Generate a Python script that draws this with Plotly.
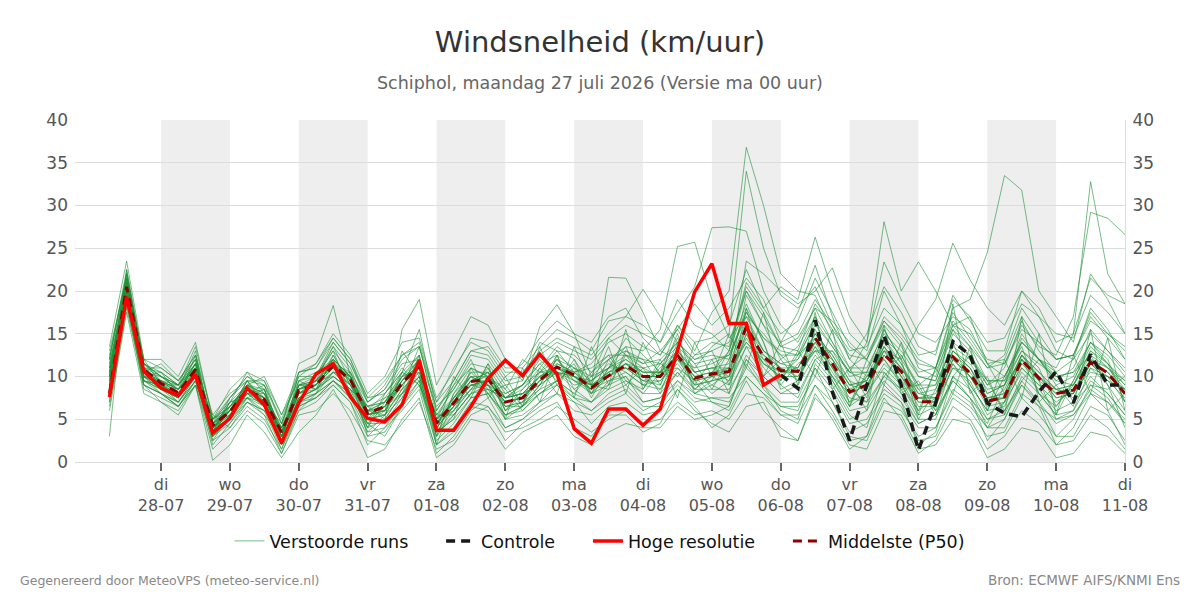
import pandas as pd
import plotly.graph_objects as go

# ---------------- DATA ----------------
start_time = "2026-07-27 06:00"
n_steps = 60            # 6-hourly values
hres_steps = 40         # HRES runs until 06-08 00:00
control_start_index = 39

hres = [7.6, 19.3, 10.6, 8.65, 7.8, 10.2, 3.4, 5.1, 8.65, 6.7, 2.2, 6.9, 10.3, 11.5, 7.6, 5.1,
        4.7, 6.7, 11.9, 3.7, 3.7, 6.5, 9.8, 11.9, 10.1, 12.6, 10.3, 3.9, 2.2, 6.2, 6.2, 4.3,
        6.2, 13.1, 19.9, 23.2, 16.2, 16.2, 9.0, 10.2]

median = [8.0, 20.5, 10.8, 9.2, 8.1, 10.8, 4.3, 5.9, 8.5, 7.3, 3.5, 8.4, 9.0, 11.3, 9.6, 5.7,
          6.5, 9.2, 11.3, 4.5, 6.9, 9.4, 9.7, 7.0, 7.5, 9.6, 11.1, 10.2, 8.7, 10.1, 11.3, 10.0,
          10.0, 12.5, 9.8, 10.3, 10.6, 15.8, 12.3, 10.7, 10.6, 14.5, 11.5, 8.2, 9.0, 12.6, 10.6, 7.05,
          7.05, 12.3, 10.4, 7.1, 7.6, 11.9, 9.8, 8.0, 8.4, 11.7, 10.4, 8.0]

control = [10.2, 8.6, 16.6, 8.2, 2.5, 9.0, 14.8, 9.0, 1.4, 6.9, 14.1, 12.5, 6.9, 5.7, 5.3, 8.2,
           10.6, 6.9, 12.6, 9.0, 9.0]

members = [
    [9.5,22.0,11.5,10.0, 8.5,13.0,3.0,6.5, 9.0,8.0,2.5,9.5, 10.5,12.0,10.0,4.0, 7.0,10.5,12.5,3.0, 8.0,11.0,10.0,6.0, 8.5,11.0,13.5,12.0, 9.0,8.5,13.0,11.5, 12.0,14.0,8.0,9.5, 13.0,18.5,14.0,9.0, 7.5,12.0,13.0,9.5, 6.0,15.5,12.0,5.0, 8.5,14.0,9.0,6.0, 10.0,13.5,8.0,5.5, 9.5,14.0,12.0,7.0],
    [11.0,19.0,9.5,8.0, 7.0,9.5,5.0,7.0, 7.5,6.0,4.0,7.0, 8.0,10.5,8.5,6.5, 5.0,8.0,10.0,5.5, 5.5,8.0,11.5,8.5, 6.0,8.0,9.5,8.0, 10.5,12.5,9.5,8.5, 11.5,10.0,12.5,13.0, 9.0,13.5,10.0,12.0, 13.5,17.0,9.5,6.5, 10.5,10.5,8.5,9.0, 5.5,10.0,12.5,9.5, 6.0,9.5,12.0,10.5, 7.0,9.0,8.5,10.0],
    [12.5,21.5,10.0,9.5, 9.0,11.5,4.0,5.0, 8.0,9.0,3.0,8.0, 9.5,13.5,11.0,6.0, 8.0,11.0,9.0,5.0, 7.0,10.5,8.5,7.5, 9.0,12.0,10.0,11.5, 7.5,11.0,14.5,12.5, 10.5,16.0,13.0,17.5, 20.0,36.8,30.0,22.0, 20.0,19.5,15.0,11.0, 12.5,16.5,14.0,10.0, 9.5,15.0,13.0,8.0, 9.0,14.0,12.0,9.5, 11.0,15.5,13.0,10.5],
    [10.0,20.0,11.0,9.0, 8.0,10.0,4.5,6.0, 9.5,7.0,4.5,9.0, 9.0,12.5,9.0,5.5, 6.0,9.5,12.0,4.0, 6.5,9.0,9.0,6.5, 7.0,9.5,12.0,9.5, 8.0,10.0,11.5,9.5, 9.0,13.0,11.0,13.5, 15.0,34.0,25.0,19.5, 18.0,20.5,16.0,12.0, 10.0,14.0,11.5,7.5, 8.0,13.0,11.0,7.0, 8.5,12.5,10.5,8.5, 9.0,13.0,11.0,9.0],
    [8.5,21.0,12.0,11.0, 9.5,12.5,3.5,7.5, 10.0,8.5,2.0,10.5, 11.0,14.5,12.0,7.0, 9.0,12.5,13.5,6.0, 9.5,13.0,12.5,9.5, 10.0,12.5,14.0,13.0, 12.0,14.5,16.0,15.0, 14.0,17.5,20.5,27.4, 27.5,27.0,20.0,16.0, 14.0,18.0,16.5,14.0, 12.0,17.0,15.0,12.0, 11.0,17.5,14.5,11.5, 12.0,17.0,14.0,12.0, 12.5,16.5,15.0,13.0],
    [9.0,18.5,8.5,7.5, 6.5,9.0,5.5,4.0, 7.0,5.5,3.0,6.5, 7.5,9.5,7.5,4.5, 3.0,6.5,9.5,2.5, 4.5,7.5,8.0,5.0, 5.5,7.0,9.0,7.5, 6.0,8.0,9.0,7.0, 7.5,10.5,8.0,9.0, 8.0,12.5,10.0,8.0, 9.0,12.5,10.0,6.5, 8.0,11.5,9.5,6.0, 11.0,18.0,19.0,24.5, 33.5,31.8,20.0,17.0, 14.0,22.0,19.0,15.0],
    [10.5,20.5,10.5,9.0, 7.5,11.0,4.0,6.0, 8.5,7.5,3.5,8.5, 9.5,11.5,10.5,5.0, 7.5,10.0,11.0,4.5, 7.0,9.5,10.5,7.5, 8.0,10.0,10.5,10.0, 9.5,11.0,12.0,10.5, 10.5,12.0,10.5,11.0, 11.5,16.5,13.0,11.5, 11.0,15.0,12.5,9.0, 9.5,13.5,11.0,8.0, 7.5,13.0,11.5,8.5, 9.0,14.5,12.0,11.0, 15.0,32.8,22.0,18.5],
    [7.5,19.5,10.0,8.5, 7.5,10.5,2.5,5.5, 8.0,6.5,4.0,8.0, 8.5,10.5,9.0,6.0, 5.5,8.5,10.5,5.0, 6.0,8.5,9.0,6.5, 7.0,8.5,11.5,10.5, 8.5,9.5,10.5,9.0, 9.5,11.5,9.0,9.5, 10.0,14.5,11.5,10.0, 12.0,16.5,13.5,10.5, 14.0,28.1,20.0,23.4, 20.0,16.0,17.0,11.5, 8.0,12.5,10.0,7.5, 8.0,11.5,9.5,7.5],
    [11.5,21.0,11.0,10.5, 9.0,12.0,3.5,7.0, 9.0,8.5,3.0,9.0, 10.0,13.0,10.5,7.0, 8.5,11.5,12.0,6.5, 8.5,11.5,11.0,8.0, 9.0,11.5,12.5,11.0, 10.0,12.0,13.0,12.0, 11.5,14.0,12.0,12.5, 12.0,17.5,14.5,13.0, 12.5,17.0,14.0,11.0, 11.0,15.0,13.0,10.0, 9.5,15.5,13.5,11.0, 11.5,16.0,13.5,12.5, 17.0,29.2,28.5,26.6],
    [6.0,17.5,8.0,7.0, 5.5,9.0,1.5,3.5, 6.0,4.5,1.0,5.5, 6.0,8.0,6.0,2.5, 2.0,4.5,7.0,1.5, 2.5,5.5,6.5,3.5, 4.0,5.0,6.5,5.0, 3.5,5.0,6.0,4.5, 5.0,7.0,5.5,6.0, 5.0,8.0,7.5,5.5, 4.5,9.0,7.0,3.5, 4.5,8.0,6.5,2.5, 3.0,7.5,6.0,3.0, 3.5,7.5,5.5,3.0, 3.0,6.5,5.5,2.5],
    [3.0,22.5,11.5,9.5, 8.5,11.5,4.5,6.5, 8.5,6.5,2.5,7.5, 8.5,12.0,8.0,4.5, 6.0,13.0,10.0,3.5, 5.0,11.0,8.0,9.0, 6.5,13.5,9.0,12.0, 8.0,12.0,9.0,11.0, 8.0,13.5,8.5,10.0, 9.0,15.0,11.0,9.0, 11.5,13.0,10.0,7.0, 8.0,11.0,9.0,5.5, 6.5,11.0,9.5,5.5, 7.0,10.5,8.5,6.0, 7.0,10.0,8.0,5.5],
    [13.5,23.5,12.0,12.0, 10.0,14.0,5.0,8.5, 10.5,9.5,4.5,10.0, 11.5,15.0,12.5,8.0, 10.0,14.0,14.5,7.5, 10.5,14.5,14.0,11.0, 11.0,13.5,15.5,14.5, 13.0,16.5,17.0,16.0, 14.0,19.0,16.0,15.0, 13.0,20.0,16.0,14.0, 15.0,19.0,16.0,13.0, 13.5,18.0,16.0,12.5, 13.0,19.0,17.0,14.0, 14.5,18.5,17.0,15.0, 14.5,19.5,17.5,15.0],
    [7.0,20.0,9.0,8.0, 7.0,10.0,3.0,5.0, 7.5,7.0,2.0,7.5, 8.5,10.0,8.5,3.5, 5.5,7.5,12.5,2.0, 7.5,10.0,8.0,5.5, 6.5,9.0,10.5,8.5, 7.0,9.0,10.0,8.0, 10.5,14.5,10.5,11.0, 10.0,19.5,16.0,12.0, 9.5,14.0,10.5,7.5, 7.0,10.0,12.5,8.5, 6.0,9.5,7.5,4.5, 9.0,12.0,8.0,6.5, 9.0,12.5,9.0,6.0],
    [12.0,22.0,10.5,11.5, 9.5,12.5,5.5,8.0, 9.5,9.0,5.0,10.0, 10.0,14.0,11.5,7.5, 8.0,10.5,15.5,6.0, 9.0,12.5,12.0,9.0, 9.5,14.0,13.0,10.5, 11.5,14.0,15.0,13.5, 12.5,16.0,14.0,14.5, 16.0,22.5,18.0,15.0, 16.5,21.5,17.5,13.5, 12.0,16.0,13.5,10.5, 11.0,16.5,14.0,11.0, 12.5,18.0,15.0,12.0, 12.5,17.5,15.0,13.5],
    [10.0,21.0,12.0,9.0, 9.0,11.0,4.0,7.0, 10.5,8.0,4.0,11.5, 12.5,18.3,10.0,3.0, 5.0,15.5,19.0,9.0, 13.0,17.0,16.0,12.0, 9.5,15.8,18.4,15.0, 10.0,14.5,12.5,10.0, 8.5,12.0,10.0,8.0, 9.5,16.0,12.5,11.0, 10.0,13.0,12.0,9.0, 8.5,13.5,10.0,7.5, 7.5,12.5,10.0,7.5, 7.5,12.0,10.0,8.5, 8.0,11.5,10.0,8.5],
    [8.0,20.0,10.0,9.5, 8.0,10.5,4.5,5.5, 8.5,7.5,3.5,8.5, 9.0,11.0,9.0,5.5, 6.5,9.5,11.5,4.5, 6.5,9.0,9.5,7.0, 7.5,10.0,11.0,10.0, 9.0,21.6,21.5,17.5, 13.0,12.0,9.5,10.0, 11.0,14.0,11.5,10.5, 11.0,14.5,11.0,8.0, 9.0,12.5,10.5,7.0, 7.0,12.0,10.0,7.0, 7.5,12.0,10.0,7.5, 8.0,12.0,10.5,8.0],
    [9.0,19.0,9.5,8.5, 7.5,10.0,3.5,6.0, 8.0,7.0,3.0,8.0, 9.0,11.5,9.5,6.0, 6.5,9.0,11.0,4.5, 7.0,9.5,9.5,7.0, 7.5,9.5,11.0,10.0, 8.5,10.0,11.0,10.0, 10.0,12.5,10.0,10.5, 13.0,21.0,18.0,20.5, 19.0,26.3,20.0,15.0, 13.0,20.0,16.0,11.0, 10.0,16.0,13.5,9.5, 9.5,15.0,12.0,9.0, 10.0,14.0,11.5,9.0],
    [9.5,20.5,10.0,8.0, 6.5,9.5,3.0,4.5, 7.0,6.0,1.5,6.5, 7.5,9.0,7.0,2.0, 4.0,6.0,8.5,1.0, 3.0,6.0,7.5,4.0, 5.0,6.5,8.0,7.0, 4.5,6.5,7.0,5.5, 6.0,8.5,6.0,4.5, 3.5,6.5,7.0,3.0, 2.5,7.5,5.5,2.0, 1.5,6.0,5.5,1.5, 2.0,5.0,4.5,0.5, 1.5,4.0,3.5,0.5, 1.0,3.5,3.0,1.0],
    [13.0,21.5,11.5,10.0, 9.0,11.5,4.0,6.5, 9.0,10.0,5.5,9.5, 8.5,12.0,10.0,5.5, 6.0,9.0,11.5,5.0, 9.0,11.0,10.0,8.5, 12.0,10.5,13.0,12.5, 10.5,12.0,13.5,13.0, 15.5,25.2,25.7,19.0, 14.5,17.0,15.0,12.5, 10.5,13.0,13.0,10.5, 9.5,13.5,11.0,8.5, 9.0,13.5,12.0,9.5, 9.5,13.0,11.5,10.0, 10.5,12.5,11.0,9.5],
    [8.5,20.5,11.0,10.0, 8.5,11.0,5.0,6.0, 8.5,7.0,3.5,8.0, 9.5,11.0,9.0,6.5, 7.0,9.5,11.0,5.5, 7.5,9.0,8.5,7.5, 8.0,9.0,10.5,9.5, 8.5,10.5,11.5,11.0, 10.0,12.0,11.0,11.5, 12.5,17.0,13.0,11.5, 12.0,15.0,12.5,9.5, 8.5,13.0,12.0,16.0, 19.0,25.6,21.3,18.0, 16.0,20.0,17.0,13.0, 12.0,15.0,13.0,11.0],
    [6.5,18.0,9.0,7.0, 6.0,9.0,0.2,2.0, 5.5,3.5,0.5,3.5, 5.5,8.5,5.0,0.5, 1.5,5.0,7.5,0.5, 2.0,5.0,4.5,1.5, 3.5,4.5,5.5,3.0, 2.0,3.5,4.5,4.0, 4.0,6.5,5.0,5.5, 6.5,11.5,8.5,6.5, 6.0,11.0,7.0,3.0, 2.5,7.0,6.0,3.0, 4.0,8.0,6.5,4.0, 5.0,9.5,7.0,3.0, 5.0,9.0,7.5,4.5],
    [10.5,22.0,11.0,8.5, 8.0,11.5,4.5,6.0, 9.5,7.5,3.0,8.0, 9.0,10.5,10.5,5.5, 6.5,10.0,10.5,4.0, 6.5,8.5,11.0,6.0, 7.0,10.5,10.5,9.0, 9.5,11.5,10.5,9.0, 11.0,13.0,10.5,9.0, 10.5,14.0,12.0,9.5, 12.5,14.5,11.0,7.0, 10.0,12.0,9.0,6.0, 7.5,11.5,9.0,6.0, 6.5,11.0,9.0,7.0, 8.5,10.5,10.0,7.0],
    [9.0,21.0,10.5,9.5, 8.0,11.0,4.0,6.0, 8.5,7.0,3.5,8.5, 9.0,11.5,9.5,5.5, 6.0,9.0,11.0,4.0, 6.5,9.0,9.5,7.0, 7.5,9.5,11.0,10.0, 9.0,10.0,11.5,10.5, 10.5,12.5,10.0,10.5, 11.0,23.5,22.0,20.0, 18.5,20.0,22.7,17.0, 14.0,23.4,19.0,15.0, 14.0,17.0,15.5,11.5, 10.0,14.0,12.0,9.5, 9.0,13.0,11.5,9.5],
    [11.0,20.5,9.5,9.0, 7.5,10.0,4.0,5.5, 8.0,8.0,4.0,9.0, 9.5,12.0,10.0,6.5, 7.0,9.5,12.0,5.0, 7.0,10.0,10.0,7.5, 8.0,10.0,11.0,9.5, 9.0,10.5,11.0,9.5, 9.5,12.0,9.0,9.5, 10.0,15.0,11.5,10.0, 10.0,13.5,11.0,8.5, 9.5,13.0,10.0,6.5, 6.5,12.0,10.0,6.5, 7.0,11.5,9.5,8.0, 8.0,11.0,10.0,8.5],
    [12.0,22.5,11.5,10.5, 9.0,13.5,5.0,7.5, 9.5,9.5,5.5,10.5, 11.0,14.0,11.5,7.0, 8.5,12.0,13.5,7.0, 9.5,13.0,13.5,10.5, 10.5,13.0,14.5,13.5, 12.5,15.0,17.0,20.2, 17.0,14.0,12.0,13.0, 14.0,20.0,17.0,13.5, 13.0,18.5,15.5,12.5, 12.0,16.5,14.5,11.5, 11.0,16.0,15.0,12.0, 11.5,15.5,14.0,12.0, 12.5,17.0,14.5,12.0],
    [8.0,19.0,9.0,8.0, 6.5,9.0,2.5,4.0, 6.5,5.0,1.5,6.0, 7.0,9.0,7.0,3.0, 3.5,6.5,9.0,2.0, 4.0,7.0,6.5,4.0, 5.0,7.0,8.0,6.0, 5.5,7.0,8.0,6.0, 7.0,9.0,7.0,7.5, 7.5,10.0,8.0,6.5, 6.5,10.0,8.0,4.5, 5.0,8.5,7.0,4.0, 4.0,8.5,7.0,4.0, 4.0,8.0,6.5,5.0, 5.5,8.0,7.0,5.0],
    [10.0,20.0,10.5,10.0, 9.0,12.0,3.5,6.0, 7.5,8.5,2.5,7.0, 10.0,13.0,8.0,4.0, 8.0,10.5,9.5,3.0, 8.0,10.0,9.0,7.5, 9.0,11.5,9.5,11.0, 8.0,9.0,12.5,12.0, 9.0,14.0,11.5,8.5, 12.0,18.0,14.0,8.5, 9.5,15.5,12.0,8.5, 7.0,14.5,11.5,8.0, 8.5,13.0,11.0,8.0, 9.0,13.0,11.0,6.5, 9.5,13.5,11.5,7.0],
    [9.0,21.5,10.0,9.0, 8.5,10.5,5.0,6.5, 9.0,7.0,3.0,9.0, 8.5,10.5,10.0,6.0, 6.0,8.0,12.0,4.5, 6.0,8.5,10.5,6.5, 6.5,9.0,12.0,10.0, 8.0,11.0,11.0,9.5, 10.5,11.0,8.5,10.5, 9.5,13.5,12.5,11.0, 9.5,13.5,10.0,8.0, 10.0,12.0,9.5,7.5, 7.0,11.0,10.5,7.5, 8.0,11.0,9.0,8.5, 7.5,11.5,9.5,8.5],
    [7.5,18.5,9.5,8.5, 7.0,9.5,3.0,5.0, 7.0,6.0,2.5,7.0, 7.5,9.5,8.0,4.5, 4.5,7.5,10.0,3.5, 5.0,7.5,8.0,5.5, 6.0,8.0,9.5,8.0, 7.0,8.5,9.5,8.0, 8.0,10.5,8.5,8.5, 8.5,12.0,10.0,8.0, 8.0,12.0,9.5,6.0, 6.5,10.0,8.5,5.0, 5.0,10.0,8.5,5.0, 5.5,10.0,8.0,5.5, 6.0,9.5,8.0,5.5],
    [10.5,21.0,11.0,9.5, 8.5,11.0,4.5,6.0, 8.5,7.5,3.5,8.5, 9.5,11.5,10.0,6.0, 7.0,9.5,11.5,5.0, 7.0,9.5,10.0,7.5, 8.0,10.0,11.5,10.5, 9.0,10.5,12.0,10.5, 10.5,13.0,10.5,11.0, 11.0,16.0,13.0,11.0, 11.0,15.0,12.0,9.0, 9.5,13.0,11.0,7.5, 7.5,12.5,11.0,7.5, 8.0,12.5,10.5,8.5, 9.0,12.0,11.0,8.5],
    [10.0,21.5,10.0,10.5, 8.0,10.5,3.5,7.0, 8.0,8.5,3.5,9.5, 10.0,13.5,9.5,5.0, 5.5,10.5,9.0,3.5, 10.0,7.5,11.5,5.0, 11.0,7.0,12.5,7.5, 13.5,9.0,15.5,8.5, 12.0,7.5,14.0,10.0, 15.0,11.0,17.5,9.5, 13.0,10.0,15.5,6.5, 12.0,9.0,14.0,5.5, 11.0,8.0,13.5,6.0, 12.0,7.5,15.0,5.5, 12.5,8.0,14.5,6.0],
    [11.5,20.0,10.5,8.5, 7.5,12.5,4.0,5.5, 9.5,6.5,2.0,8.5, 9.5,10.0,8.5,6.5, 7.5,8.5,13.5,5.5, 8.5,12.0,7.5,10.0, 6.5,11.0,8.0,13.5, 9.0,13.5,8.0,14.0, 10.0,15.0,9.0,12.0, 8.0,18.0,10.0,14.0, 9.0,17.5,8.5,11.0, 7.5,16.0,8.0,9.5, 6.0,18.5,8.0,10.0, 5.5,17.0,7.0,9.0, 6.5,15.5,6.0,8.0],
    [8.5,19.5,9.5,9.0, 7.0,10.0,2.0,4.5, 7.5,5.5,1.0,6.0, 8.0,9.5,7.5,3.5, 4.0,7.0,9.5,2.0, 3.5,6.5,6.0,2.5, 4.5,6.0,7.0,4.0, 3.0,5.5,5.5,3.5, 4.5,8.5,6.5,4.0, 5.5,9.5,6.0,4.0, 2.5,8.0,5.0,1.5, 3.0,9.0,7.0,2.0, 3.5,10.0,7.5,2.5, 5.0,9.0,6.5,2.0, 4.0,8.0,6.0,2.0],
    [12.0,22.0,11.0,11.0, 9.5,12.0,4.5,7.5, 10.0,9.0,4.5,10.5, 11.5,14.5,12.0,7.5, 9.5,12.5,14.0,7.0, 11.0,14.0,13.0,10.0, 11.5,14.5,16.5,15.0, 14.0,17.0,18.0,14.5, 12.5,15.5,18.5,16.0, 18.0,21.5,19.0,14.0, 17.5,23.0,17.0,12.0, 15.0,20.5,17.5,13.5, 12.5,19.5,16.5,13.0, 13.0,20.0,18.0,14.0, 15.0,21.5,19.5,18.5],
    [9.5,20.0,10.0,9.0, 8.0,11.5,5.0,6.5, 8.0,7.5,4.0,7.5, 8.0,12.5,9.0,4.5, 6.5,8.0,11.0,3.5, 6.0,9.5,10.5,6.0, 8.0,9.0,12.5,8.5, 10.0,11.0,13.5,9.0, 8.5,11.0,9.5,7.0, 6.5,12.0,9.0,6.0, 5.0,11.5,9.0,5.5, 4.0,10.5,8.0,4.5, 5.5,11.5,8.5,4.0, 7.0,12.5,9.5,5.0, 6.0,11.0,9.0,4.0],
    [10.5,21.0,11.5,10.0, 9.0,11.0,4.0,6.0, 9.0,8.0,3.0,9.0, 9.0,11.0,10.0,5.0, 6.5,10.0,12.5,4.5, 7.5,10.0,9.0,8.0, 9.0,10.5,11.0,10.5, 11.0,12.5,12.5,11.5, 13.0,15.5,12.5,14.0, 13.5,20.5,17.5,13.5, 14.5,18.0,14.0,10.0, 10.5,15.5,12.0,9.0, 10.5,15.5,12.0,9.0, 11.0,16.5,13.0,10.5, 12.0,18.0,15.5,12.0],
    [7.0,19.0,9.0,8.0, 6.5,9.5,3.0,5.5, 7.5,6.5,2.0,7.0, 8.0,9.5,8.0,4.0, 5.0,8.0,10.0,3.0, 5.5,8.0,9.0,5.0, 6.5,8.5,9.5,7.5, 7.0,9.5,10.0,7.0, 7.5,9.5,8.0,7.5, 7.0,11.0,9.0,7.0, 7.0,11.0,8.5,5.0, 6.0,9.5,7.5,4.5, 5.5,9.5,7.5,5.0, 6.0,9.0,7.0,4.5, 5.5,8.5,7.0,4.5],
    [11.0,21.5,10.5,9.5, 8.5,11.5,4.5,6.5, 9.0,7.5,3.5,9.0, 9.5,12.0,10.0,6.0, 7.0,10.0,12.0,5.0, 7.5,10.5,10.5,7.5, 8.5,10.5,12.0,11.0, 9.5,11.0,12.5,11.0, 11.5,13.5,11.5,12.0, 12.5,17.5,14.5,12.5, 12.5,16.0,13.5,10.5, 10.5,14.5,12.5,9.0, 9.0,14.0,12.5,9.0, 10.0,14.0,12.0,10.0, 10.5,14.0,12.5,10.0],
    [9.0,20.0,10.0,8.5, 7.5,10.0,3.5,5.0, 8.0,6.5,2.5,7.5, 8.5,10.0,8.5,5.0, 5.5,8.5,10.5,3.5, 5.5,8.0,8.5,5.5, 6.5,8.0,9.0,7.0, 6.0,7.5,8.5,6.5, 6.5,9.5,7.5,7.0, 6.0,10.0,8.0,5.5, 5.5,9.0,6.0,2.5, 3.0,7.5,5.0,1.0, 2.5,6.5,5.0,1.5, 3.0,6.0,4.5,2.0, 2.5,5.5,4.0,1.5],
    [10.0,20.5,11.0,9.0, 8.0,10.5,4.0,6.0, 8.5,7.5,3.0,8.0, 9.0,11.5,9.5,5.5, 6.5,9.0,11.5,4.5, 7.0,9.0,9.5,7.0, 7.5,9.5,10.5,10.0, 8.5,10.0,11.5,10.0, 10.0,12.5,9.5,10.0, 10.5,15.5,12.0,10.5, 10.5,14.0,11.5,8.0, 9.0,12.5,10.0,7.0, 7.0,12.0,10.0,7.0, 7.5,12.0,10.0,8.0, 8.5,11.5,10.5,8.0],
]

tick_dates = ["2026-07-28", "2026-07-29", "2026-07-30", "2026-07-31", "2026-08-01", "2026-08-02",
              "2026-08-03", "2026-08-04", "2026-08-05", "2026-08-06", "2026-08-07", "2026-08-08",
              "2026-08-09", "2026-08-10", "2026-08-11"]
tick_days = ["di", "wo", "do", "vr", "za", "zo", "ma", "di", "wo", "do", "vr", "za", "zo", "ma", "di"]
tick_labels = ["28-07", "29-07", "30-07", "31-07", "01-08", "02-08", "03-08", "04-08", "05-08",
               "06-08", "07-08", "08-08", "09-08", "10-08", "11-08"]
shaded_days = ["2026-07-28", "2026-07-30", "2026-08-01", "2026-08-03", "2026-08-05",
               "2026-08-07", "2026-08-09"]
x_range = ["2026-07-26 18:00", "2026-08-11 00:00"]

# ---------------- FIGURE ----------------
times = pd.date_range(start_time, periods=n_steps, freq="6h")

FONT = "DejaVu Sans"
PAD = "\u00a0" * 5
fig = go.Figure()

for i, m in enumerate(members):
    fig.add_trace(go.Scatter(
        x=times, y=m, mode="lines", name="Verstoorde runs" + PAD,
        line=dict(color="rgba(30,145,55,0.6)", width=1),
        legendgroup="ens", showlegend=(i == 0), legendrank=1, hoverinfo="skip"))

fig.add_trace(go.Scatter(x=times, y=median, mode="lines", name="Middelste (P50)",
                         line=dict(color="#8b0000", width=3, dash="9px,6px"), legendrank=4))
fig.add_trace(go.Scatter(x=times[control_start_index:], y=control, mode="lines", name="Controle" + PAD,
                         line=dict(color="#1a1a1a", width=3.5, dash="9px,6px"), legendrank=2))
fig.add_trace(go.Scatter(x=times[:hres_steps], y=hres, mode="lines", name="Hoge resolutie" + PAD,
                         line=dict(color="#ff0000", width=3.5), legendrank=3, yaxis="y2"))

for d in shaded_days:
    d0 = pd.Timestamp(d)
    fig.add_shape(type="rect", xref="x", yref="paper", x0=d0, x1=d0 + pd.Timedelta(days=1),
                  y0=0, y1=1, fillcolor="#eeeeee", line_width=0, layer="below")

yax = dict(range=[0, 40], tickvals=list(range(0, 45, 5)), showgrid=True, gridcolor="#dddddd",
           gridwidth=1, zeroline=False, tickfont=dict(size=17, color="#555555"),
           fixedrange=True, ticks="")
fig.update_layout(
    width=1200, height=600,
    margin=dict(l=75, r=75, t=120, b=138),
    paper_bgcolor="white", plot_bgcolor="white",
    font=dict(family=FONT, color="#555555"),
    title=dict(text="Windsnelheid (km/uur)", x=0.5, xanchor="center", y=0.93, yanchor="middle",
               font=dict(size=29, color="#333333", family=FONT)),
    xaxis=dict(range=x_range, tickvals=[pd.Timestamp(t) for t in tick_dates],
               ticktext=[f"{a}<br>{b}" for a, b in zip(tick_days, tick_labels)],
               showgrid=False, ticks="outside", ticklen=8, tickcolor="#666666", tickwidth=2,
               tickfont=dict(size=16, color="#555555"), showline=True, linecolor="#dddddd",
               zeroline=False),
    yaxis=dict(yax, ticklabelstandoff=6),
    yaxis2=dict(yax, overlaying="y", side="right", showline=True, linecolor="#dddddd",
                ticklabelstandoff=3),
    legend=dict(orientation="h", x=0.5, xanchor="center", y=-0.231, yanchor="middle",
                font=dict(size=17.5, color="#111111"), bgcolor="rgba(0,0,0,0)"),
    showlegend=True,
    annotations=[
        dict(text="Schiphol, maandag 27 juli 2026 (Versie ma 00 uur)", xref="paper", yref="paper",
             x=0.5, y=(462 - 83) / 342, xanchor="center", yanchor="middle", showarrow=False,
             font=dict(size=17.5, color="#666666")),
        dict(text="Gegenereerd door MeteoVPS (meteo-service.nl)", xref="paper", yref="paper",
             x=(18 - 75) / 1050, y=(462 - 580) / 342, xanchor="left", yanchor="middle",
             showarrow=False, font=dict(size=12.5, color="#888888")),
        dict(text="Bron: ECMWF AIFS/KNMI Ens", xref="paper", yref="paper",
             x=(1182 - 75) / 1050, y=(462 - 580) / 342, xanchor="right", yanchor="middle",
             showarrow=False, font=dict(size=13.5, color="#888888")),
    ],
)

fig.write_html("out.html")
